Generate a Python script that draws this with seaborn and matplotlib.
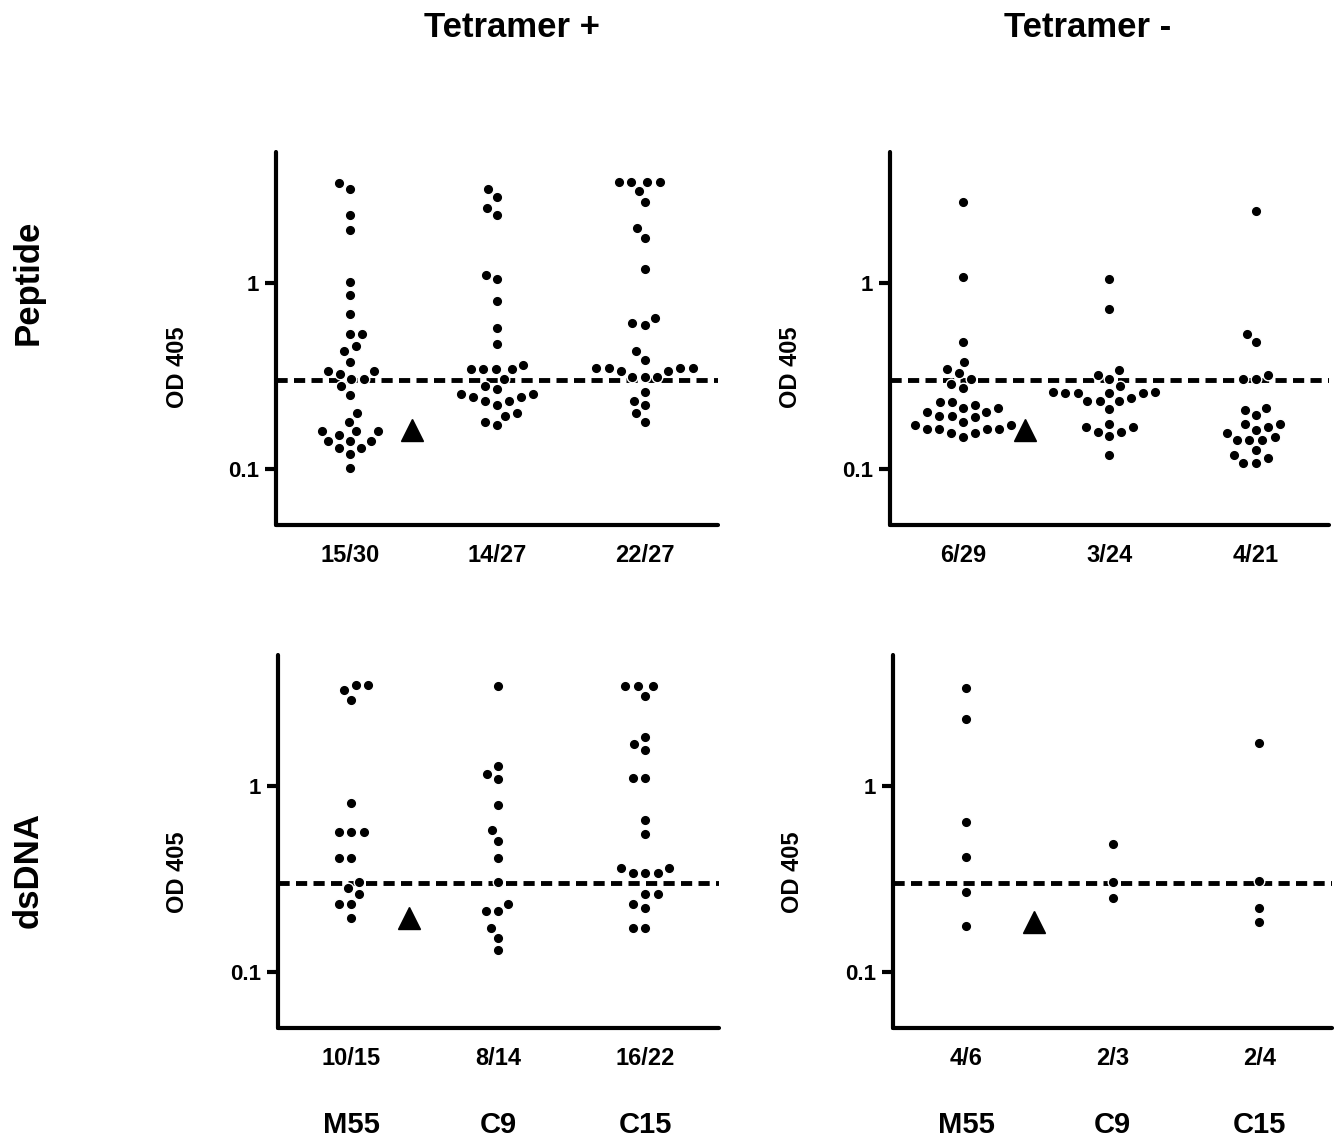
import numpy as np
import pandas as pd
import matplotlib
matplotlib.use("Agg")
import matplotlib.pyplot as plt
import matplotlib.transforms as mtransforms
import seaborn as sns

sns.set_style("ticks")
plt.rcParams["font.family"] = ["Liberation Sans", "DejaVu Sans"]
plt.rcParams["font.weight"] = "bold"
for key in ["text.color", "axes.edgecolor", "axes.labelcolor", "xtick.color", "ytick.color"]:
    plt.rcParams[key] = "black"

groups = ["M55", "C9", "C15"]
cutoff = 0.3

# Peptide, tetramer +
pep_pos_m55 = [3.45, 3.19, 2.31, 1.93, 1.01, 0.86, 0.68, 0.53, 0.53, 0.46, 0.43, 0.376,
               0.335, 0.335, 0.326, 0.306, 0.306, 0.28, 0.251, 0.20, 0.18, 0.16, 0.16,
               0.16, 0.152, 0.141, 0.141, 0.141, 0.130, 0.130, 0.121, 0.101]
pep_pos_c9 = [3.19, 2.90, 2.53, 2.31, 1.11, 1.05, 0.80, 0.57, 0.47, 0.364, 0.343, 0.343,
              0.343, 0.343, 0.306, 0.28, 0.27, 0.253, 0.253, 0.243, 0.243, 0.232, 0.232,
              0.222, 0.20, 0.193, 0.18, 0.172]
pep_pos_c15 = [3.49, 3.49, 3.49, 3.49, 3.11, 2.72, 1.97, 1.75, 1.19, 0.65, 0.61, 0.595,
               0.43, 0.384, 0.35, 0.35, 0.35, 0.35, 0.335, 0.335, 0.312, 0.312, 0.312,
               0.258, 0.232, 0.22, 0.20, 0.18]

# Peptide, tetramer -
pep_neg_m55 = [2.73, 1.08, 0.48, 0.376, 0.343, 0.327, 0.306, 0.285, 0.272, 0.229, 0.229,
               0.222, 0.212, 0.212, 0.202, 0.202, 0.193, 0.193, 0.19, 0.18, 0.172, 0.172,
               0.165, 0.165, 0.165, 0.165, 0.157, 0.157, 0.149]
pep_neg_c9 = [1.05, 0.73, 0.339, 0.32, 0.306, 0.278, 0.258, 0.255, 0.255, 0.255, 0.255,
              0.258, 0.232, 0.232, 0.232, 0.242, 0.211, 0.175, 0.168, 0.168, 0.158, 0.158,
              0.15, 0.119]
pep_neg_c15 = [2.43, 0.53, 0.48, 0.321, 0.306, 0.306, 0.212, 0.208, 0.195, 0.175, 0.175,
               0.168, 0.163, 0.157, 0.148, 0.143, 0.143, 0.143, 0.126, 0.119, 0.114, 0.108,
               0.108]

# dsDNA, tetramer +
dna_pos_m55 = [3.49, 3.49, 3.28, 2.90, 0.81, 0.57, 0.57, 0.57, 0.41, 0.41, 0.306, 0.284,
               0.262, 0.232, 0.232, 0.195]
dna_pos_c9 = [3.45, 1.28, 1.16, 1.09, 0.79, 0.58, 0.51, 0.41, 0.306, 0.233, 0.213, 0.213,
              0.173, 0.153, 0.131]
dna_pos_c15 = [3.45, 3.45, 3.45, 3.07, 1.84, 1.69, 1.57, 1.11, 1.11, 0.66, 0.55, 0.364,
               0.364, 0.343, 0.343, 0.343, 0.262, 0.262, 0.232, 0.222, 0.173, 0.173]

# dsDNA, tetramer -
dna_neg_m55 = [3.38, 2.29, 0.64, 0.417, 0.269, 0.178]
dna_neg_c9 = [0.488, 0.307, 0.251]
dna_neg_c15 = [1.70, 0.31, 0.222, 0.186]

pep_pos_frac = ["15/30", "14/27", "22/27"]
pep_neg_frac = ["6/29", "3/24", "4/21"]
dna_pos_frac = ["10/15", "8/14", "16/22"]
dna_neg_frac = ["4/6", "2/3", "2/4"]

# triangle (control) marker per panel: x position, OD value
tri_x = [0.42, 0.42, 0.39, 0.46]
tri_y = [0.163, 0.163, 0.195, 0.186]

panels = [
    ([pep_pos_m55, pep_pos_c9, pep_pos_c15], pep_pos_frac),
    ([pep_neg_m55, pep_neg_c9, pep_neg_c15], pep_neg_frac),
    ([dna_pos_m55, dna_pos_c9, dna_pos_c15], dna_pos_frac),
    ([dna_neg_m55, dna_neg_c9, dna_neg_c15], dna_neg_frac),
]

rects = [
    [0.2054, 0.5395, 0.329, 0.327],
    [0.662, 0.5395, 0.327, 0.327],
    [0.2068, 0.0982, 0.328, 0.327],
    [0.6644, 0.0982, 0.327, 0.327],
]

fig = plt.figure(figsize=(13.44, 11.4), dpi=100)

for i, ((vals, fracs), rect) in enumerate(zip(panels, rects)):
    ax = fig.add_axes(rect)
    df = pd.DataFrame({
        "group": np.repeat(groups, [len(v) for v in vals]),
        "od": np.concatenate(vals),
    })
    ax.set_yscale("log")
    ax.set_ylim(0.05, 5.06)
    ax.set_xlim(-0.5, 2.5)
    sns.swarmplot(data=df, x="group", y="od", order=groups, ax=ax, color="black",
                  size=7.6, edgecolor="white", linewidth=1.0, zorder=3)
    ax.set_yscale("log")
    ax.set_ylim(0.05, 5.06)
    ax.set_xlim(-0.5, 2.5)
    ax.axhline(cutoff, color="black", lw=3.5, dashes=(2.3, 1.3), zorder=2)
    ax.plot(tri_x[i], tri_y[i], marker="^", color="black", markersize=16,
            linestyle="none", zorder=4)

    ax.set_yticks([0.1, 1])
    ax.set_yticklabels(["0.1", "1"])
    ax.yaxis.set_minor_locator(matplotlib.ticker.NullLocator())
    ax.set_xticks([0, 1, 2])
    ax.set_xticklabels(fracs)
    ax.tick_params(axis="x", length=0, pad=14, labelsize=17)
    ax.tick_params(axis="y", length=8, width=3, labelsize=16, pad=4)
    for lab in ax.get_xticklabels() + ax.get_yticklabels():
        lab.set_fontweight("bold")
    ax.set_xlabel("")
    ax.set_ylabel("")
    sns.despine(ax=ax)
    for s in ["left", "bottom"]:
        ax.spines[s].set_linewidth(3)
        ax.spines[s].set_color("black")
        ax.spines[s].set_capstyle("round")

    if i >= 2:
        trans = mtransforms.blended_transform_factory(ax.transData, ax.transAxes)
        for k, g in enumerate(groups):
            ax.text(k, -0.26, g, transform=trans, ha="center", va="center",
                    fontsize=21, fontweight="bold")

# y labels
for x, y in [(0.1317, 0.678), (0.588, 0.678), (0.1317, 0.235), (0.590, 0.235)]:
    fig.text(x, y, "OD 405", rotation=90, ha="center", va="center",
             fontsize=17, fontweight="bold")

fig.text(0.381, 0.976, "Tetramer +", ha="center", va="center", fontsize=25, fontweight="bold")
fig.text(0.8095, 0.976, "Tetramer -", ha="center", va="center", fontsize=25, fontweight="bold")
fig.text(0.021, 0.752, "Peptide", rotation=90, ha="center", va="center", fontsize=25,
         fontweight="bold")
fig.text(0.021, 0.237, "dsDNA", rotation=90, ha="center", va="center", fontsize=25,
         fontweight="bold")

fig.savefig("out.png", dpi=100, facecolor="white")
